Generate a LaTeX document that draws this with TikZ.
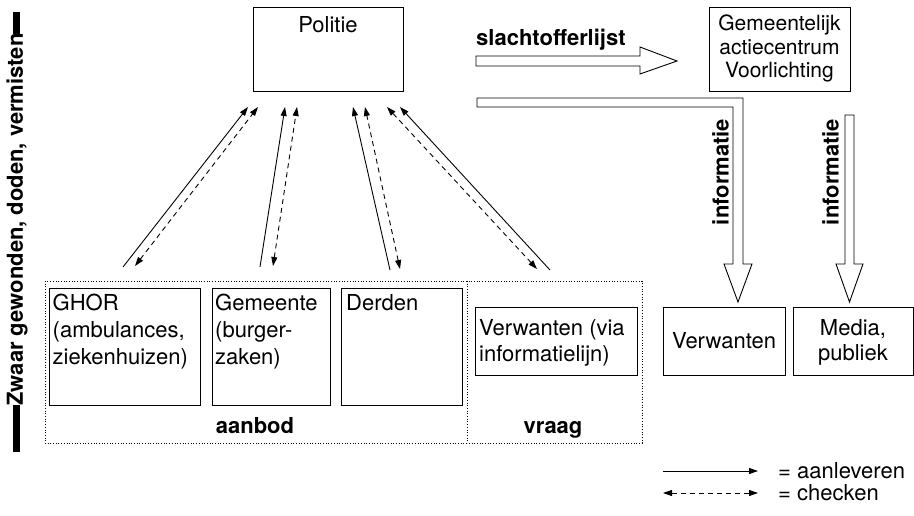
\documentclass[tikz,border=0pt]{standalone}
\usepackage{fontspec}
\setmainfont{TeX Gyre Heros}
\usetikzlibrary{arrows.meta}
\begin{document}
\begin{tikzpicture}[x=1pt,y=-1pt,
  every node/.style={inner sep=0pt, font=\fontsize{22}{27}\selectfont},
  box/.style={draw, line width=0.9pt, anchor=north west},
  dotbox/.style={draw, line width=0.9pt, dash pattern=on 0.9pt off 1.8pt},
  hollow/.style={draw, fill=white, line width=0.9pt, line join=miter},
  bold/.style={font=\fontsize{22}{27}\selectfont\bfseries},
  solidarr/.style={line width=0.9pt, -{Triangle[length=9pt,width=6pt]}},
  dasharr/.style={line width=0.9pt, dash pattern=on 5pt off 4pt, {Triangle[length=9pt,width=6pt]}-{Triangle[length=9pt,width=6pt]}}
]
\useasboundingbox (0,0) rectangle (914,516);

% left vertical label
\fill (13,12) rectangle (20,34);
\fill (13,405) rectangle (20,452);
\node[bold, rotate=90] (zwaar) at (17,219.5) {Zwaar gewonden, doden, vermisten};

% top boxes
\node[box, minimum width=150pt, minimum height=84pt] (politie) at (253,7) {};
\node[anchor=base] (politietxt) at (328,33) {Politie};
\node[box, minimum width=141pt, minimum height=84pt] (gac) at (709,7) {};
\node[anchor=north, align=center, font=\fontsize{21}{23.5}\selectfont] (gactxt) at (779.5,15) {Gemeentelijk\\actiecentrum\\Voorlichting};

% dotted frames
\draw[dotbox] (45,281) rectangle (642,443);
\draw[dotbox] (467,281) -- (467,443);
\node[bold, anchor=base] (aanbod) at (255,433) {aanbod};
\node[bold, anchor=base] (vraag) at (553,433) {vraag};

% source boxes
\node[box, minimum width=151pt, minimum height=117pt] (ghor) at (49,288) {};
\node[anchor=north west, align=left] (ghortxt) at (52.5,294) {GHOR\\(ambulances,\\ziekenhuizen)};
\node[box, minimum width=118pt, minimum height=117pt] (gem) at (212,288) {};
\node[anchor=north west, align=left] (gemtxt) at (215,294) {Gemeente\\(burger-\\zaken)};
\node[box, minimum width=121pt, minimum height=117pt] (derden) at (341,288) {};
\node[anchor=base west] (derdentxt) at (346,310) {Derden};
\node[box, minimum width=162pt, minimum height=68pt] (verwvia) at (475,307) {};
\node[anchor=north west, align=left, font=\fontsize{22}{26}\selectfont] (verwviatxt) at (479,319) {Verwanten (via\\informatielijn)};

% right boxes
\node[box, minimum width=122pt, minimum height=68pt] (verw) at (663,307) {};
\node[anchor=base] (verwtxt) at (724,348) {Verwanten};
\node[box, minimum width=120pt, minimum height=68pt] (media) at (793,307) {};
\node[anchor=north, align=center, font=\fontsize{22}{25}\selectfont] (mediatxt) at (853,319) {Media,\\publiek};

% hollow arrows
\draw[hollow] (476,56) -- (640,56) -- (640,47) -- (677,61) -- (640,74) -- (640,66) -- (476,66) -- cycle;
\node[bold, anchor=base west] (slacht) at (476,46) {slachtofferlijst};
\draw[hollow] (477,98) -- (743,98) -- (743,264) -- (752,264) -- (738,302) -- (724,264) -- (733,264) -- (733,107) -- (477,107) -- cycle;
\draw[hollow] (845,115) -- (854,115) -- (854,264) -- (863,264) -- (849.5,302) -- (836,264) -- (845,264) -- cycle;
\node[bold, rotate=90] (info1) at (720.5,172) {informatie};
\node[bold, rotate=90] (info2) at (830.5,172) {informatie};

% arrow ends
\coordinate (a1s) at (123,267); \coordinate (a1t) at (248,107);
\coordinate (b1s) at (135,266); \coordinate (b1t) at (258,107);
\coordinate (a2s) at (260,267); \coordinate (a2t) at (285,107);
\coordinate (b2s) at (273,266); \coordinate (b2t) at (297,107);
\coordinate (a3s) at (390,270); \coordinate (a3t) at (353,107);
\coordinate (b3s) at (400,269); \coordinate (b3t) at (365,107);
\coordinate (a4s) at (550,270); \coordinate (a4t) at (400,107);
\coordinate (b4s) at (537,269); \coordinate (b4t) at (387,107);
\draw[solidarr] (a1s) -- (a1t);
\draw[dasharr] (b1s) -- (b1t);
\draw[solidarr] (a2s) -- (a2t);
\draw[dasharr] (b2s) -- (b2t);
\draw[solidarr] (a3s) -- (a3t);
\draw[dasharr] (b3s) -- (b3t);
\draw[solidarr] (a4s) -- (a4t);
\draw[dasharr] (b4s) -- (b4t);

% legend
\coordinate (l1a) at (663,471); \coordinate (l1b) at (758,471);
\coordinate (l2a) at (663,493); \coordinate (l2b) at (758,493);
\draw[solidarr] (l1a) -- (l1b);
\draw[dasharr] (l2a) -- (l2b);
\node[anchor=base west] (leg1) at (778,478) {= aanleveren};
\node[anchor=base west] (leg2) at (778,500) {= checken};
\end{tikzpicture}
\end{document}
